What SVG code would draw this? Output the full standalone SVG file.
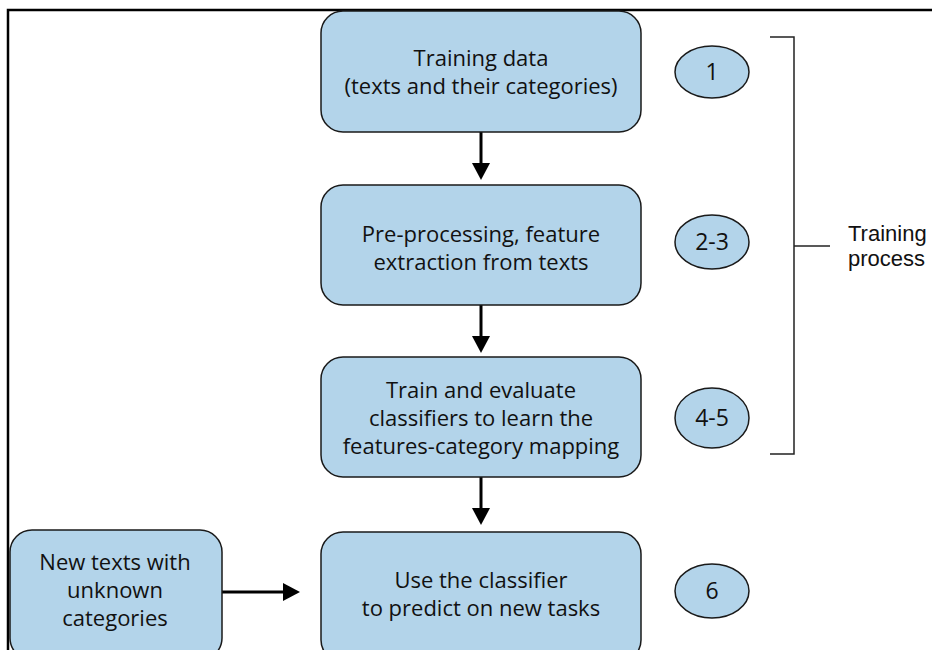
<svg xmlns="http://www.w3.org/2000/svg" width="932" height="650" viewBox="0 0 932 650">
<defs>
<style>
.box{fill:#b3d4ea;stroke:#1a1a1a;stroke-width:1.5}
.num{fill:#b3d4ea;stroke:#1a1a1a;stroke-width:1.5}
.t{font-family:"Open Sans","Noto Sans",sans-serif;font-size:22px;fill:#111;text-anchor:middle}
.n{font-family:"Open Sans","Noto Sans",sans-serif;font-size:23px;fill:#111;text-anchor:middle}
.lbl{font-family:"Liberation Sans",Arial,sans-serif;font-size:22px;fill:#111}
.c{stroke:#000;stroke-width:3;fill:none}
.br{stroke:#222;stroke-width:1.5;fill:none}
</style>
</defs>
<rect width="932" height="650" fill="#fff"/>
<path d="M8,650 L8,10 L932,10" stroke="#000" stroke-width="2.5" fill="none"/>

<g id="connectors">
<line class="c" x1="481" y1="132" x2="481" y2="164"/>
<path d="M472,163 L490,163 L481,180 Z" fill="#000"/>
<line class="c" x1="481" y1="305" x2="481" y2="337"/>
<path d="M472,336 L490,336 L481,353 Z" fill="#000"/>
<line class="c" x1="481" y1="477" x2="481" y2="509"/>
<path d="M472,508 L490,508 L481,525 Z" fill="#000"/>
<line class="c" x1="222" y1="592" x2="285" y2="592"/>
<path d="M283,583 L300,592 L283,601 Z" fill="#000"/>
</g>

<g id="bracket">
<path class="br" d="M770,37 L794,37 L794,454 L770,454"/>
<line class="br" x1="794" y1="246" x2="830" y2="246"/>
<text class="lbl" x="848" y="241">Training</text>
<text class="lbl" x="848" y="266">process</text>
</g>

<g id="n1">
<rect class="box" x="321" y="11" width="320" height="121" rx="22"/>
<text class="t" x="481" y="66">Training data</text>
<text class="t" x="481" y="94">(texts and their categories)</text>
</g>
<g id="n2">
<rect class="box" x="321" y="185" width="320" height="120" rx="22"/>
<text class="t" x="481" y="241.5">Pre-processing, feature</text>
<text class="t" x="481" y="269.5">extraction from texts</text>
</g>
<g id="n3">
<rect class="box" x="321" y="357" width="320" height="120" rx="22"/>
<text class="t" x="481" y="397.5">Train and evaluate</text>
<text class="t" x="481" y="425.5">classifiers to learn the</text>
<text class="t" x="481" y="453.5">features-category mapping</text>
</g>
<g id="n4">
<rect class="box" x="321" y="532" width="320" height="130" rx="22"/>
<text class="t" x="481" y="587.5">Use the classifier</text>
<text class="t" x="481" y="615.5">to predict on new tasks</text>
</g>
<g id="n5">
<rect class="box" x="10" y="530" width="212" height="130" rx="22"/>
<text class="t" x="115" y="570">New texts with</text>
<text class="t" x="115" y="598">unknown</text>
<text class="t" x="115" y="626">categories</text>
</g>

<g id="s1">
<ellipse class="num" cx="712" cy="72" rx="37" ry="26"/>
<text class="n" x="712" y="80">1</text>
</g>
<g id="s23">
<ellipse class="num" cx="712" cy="242" rx="37" ry="27"/>
<text class="n" x="712" y="250">2-3</text>
</g>
<g id="s45">
<ellipse class="num" cx="712" cy="418" rx="37" ry="30"/>
<text class="n" x="712" y="426">4-5</text>
</g>
<g id="s6">
<ellipse class="num" cx="712" cy="591" rx="37" ry="27"/>
<text class="n" x="712" y="599">6</text>
</g>
</svg>
